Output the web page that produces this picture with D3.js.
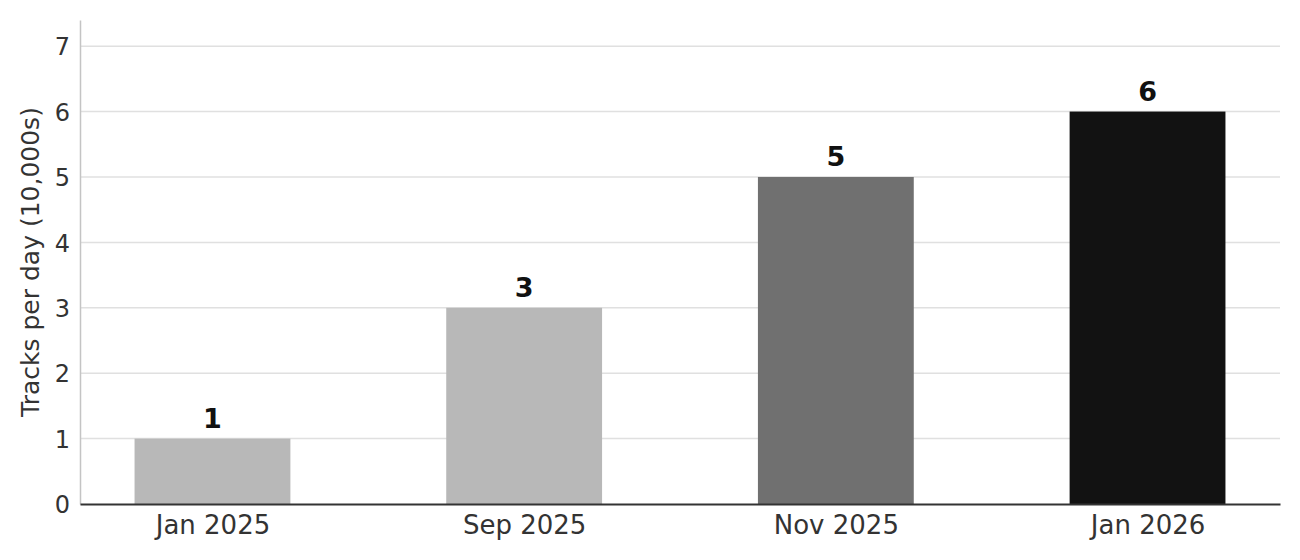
<!DOCTYPE html>
<html>
<head>
<meta charset="utf-8">
<script src="https://cdn.jsdelivr.net/npm/d3@7"></script>
<style>
  body { margin: 0; background: #fff; }
  text { font-family: "DejaVu Sans", sans-serif; }
</style>
</head>
<body>
<svg id="chart" width="1300" height="560"></svg>
<script>
// data
const categories = ["Jan 2025", "Sep 2025", "Nov 2025", "Jan 2026"];
const values = [1, 3, 5, 6];
const barColors = ["#b8b8b8", "#b8b8b8", "#707070", "#121212"];
const yTicks = [0, 1, 2, 3, 4, 5, 6, 7];
const yLabel = "Tracks per day (10,000s)";

const margin = { left: 80, right: 20, top: 20, bottom: 56 };
const width = 1300 - margin.left - margin.right;
const height = 560 - margin.top - margin.bottom;

const svg = d3.select("#chart");
const g = svg.append("g").attr("transform", `translate(${margin.left},${margin.top})`);

// matplotlib-style categorical x: bars of width 0.5, 5% margins
const xScale = d3.scaleLinear().domain([-0.425, 3.425]).range([0, width]);
const yScale = d3.scaleLinear().domain([0, 7.4]).range([height, 0]);
const barW = xScale(0.5) - xScale(0);

//grid
g.append("g")
  .selectAll("line")
  .data(yTicks.filter(d => d > 0))
  .enter()
  .append("line")
  .attr("x1", 0)
  .attr("x2", width)
  .attr("y1", d => yScale(d))
  .attr("y2", d => yScale(d))
  .attr("stroke", "#e0e0e0")
  .attr("stroke-width", 1.5);

// bars
g.append("g")
  .selectAll("rect")
  .data(values)
  .enter()
  .append("rect")
  .attr("x", (d, i) => xScale(i) - barW / 2)
  .attr("y", d => yScale(d))
  .attr("width", barW)
  .attr("height", d => yScale(0) - yScale(d))
  .attr("fill", (d, i) => barColors[i]);

// value labels
g.append("g")
  .selectAll("text")
  .data(values)
  .enter()
  .append("text")
  .attr("x", (d, i) => xScale(i))
  .attr("y", d => yScale(d) - 11)
  .attr("text-anchor", "middle")
  .attr("font-size", "27px")
  .attr("font-weight", "bold")
  .attr("fill", "#111")
  .text(d => d);

//y-axis
const yAxis = g.append("g")
  .call(d3.axisLeft(yScale).tickValues(yTicks).tickSize(0).tickPadding(10).tickFormat(d3.format("d")));
yAxis.select(".domain").attr("stroke", "#c4c4c4").attr("stroke-width", 1.5);
yAxis.selectAll("text")
  .attr("font-size", "24px")
  .attr("fill", "#333")
  .attr("dy", "0.36em");

//x-axis
const xAxis = g.append("g")
  .attr("transform", `translate(0,${height})`)
  .call(d3.axisBottom(xScale).tickValues(d3.range(categories.length)).tickSize(0).tickPadding(12)
    .tickFormat(i => categories[i]));
xAxis.select(".domain").attr("stroke", "#333").attr("stroke-width", 2);
xAxis.selectAll("text")
  .attr("font-size", "26px")
  .attr("fill", "#333");

// y label
svg.append("text")
  .attr("transform", `translate(39,${margin.top + height / 2}) rotate(-90)`)
  .attr("text-anchor", "middle")
  .attr("font-size", "25px")
  .attr("fill", "#333")
  .text(yLabel);
</script>
</body>
</html>
